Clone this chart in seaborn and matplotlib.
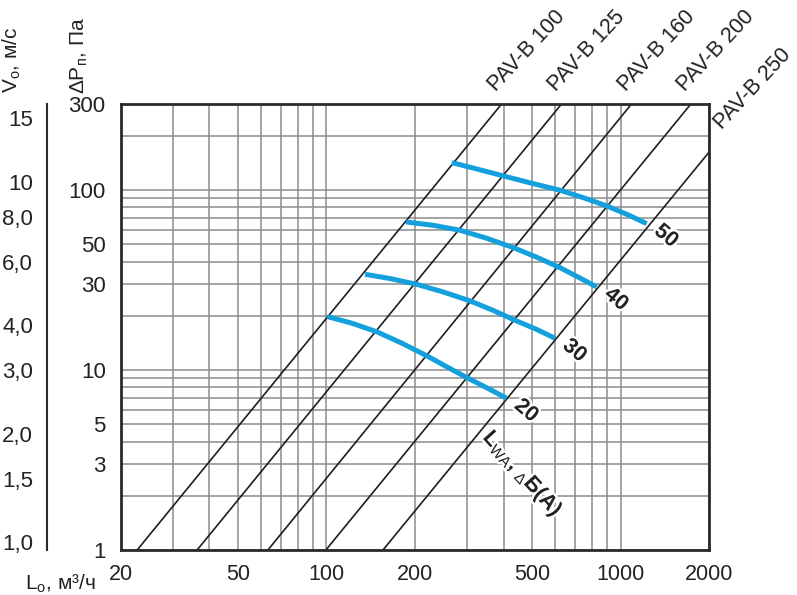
import numpy as np
import pandas as pd
import matplotlib
matplotlib.use("Agg")
import matplotlib.pyplot as plt
import matplotlib.ticker as mticker
import matplotlib.patheffects as pe
import seaborn as sns

# === Values ===
x_ticks = [20, 50, 100, 200, 500, 1000, 2000]
y_ticks = [1, 3, 5, 10, 30, 50, 100, 300]
v_ticks = [1.0, 1.5, 2.0, 3.0, 4.0, 6.0, 8.0, 10, 15]
v_tick_labels = ["1,0", "1,5", "2,0", "3,0", "4,0", "6,0", "8,0", "10", "15"]
v_minor_ticks = [5, 7, 9]

# pressure lines of each damper size (flow m3/h, dP Pa at both ends)
pav_models = ["PAV-B 100", "PAV-B 125", "PAV-B 160", "PAV-B 200", "PAV-B 250"]
pav_flow = [[22.7, 394], [36.3, 630], [63.2, 1090], [99.5, 1735], [155.6, 2000]]
pav_dp = [[1, 300], [1, 300], [1, 300], [1, 300], [1, 162]]

# sound power curves Lwa, dB(A)
noise_levels = [20, 30, 40, 50]
lw20_flow = [100.6, 121.8, 148.2, 180.2, 219.1, 259.7, 307.7, 355.2, 410.1]
lw20_dp = [19.8, 18.2, 16.3, 14.1, 12.0, 10.3, 8.88, 7.88, 6.96]
lw30_flow = [135.2, 164.4, 202.7, 249.7, 307.7, 369.4, 443.6, 518.6, 598.7]
lw30_dp = [34.0, 32.2, 29.9, 27.1, 24.2, 21.4, 18.7, 16.8, 15.0]
lw40_flow = [186.4, 230.9, 284.6, 350.6, 432.0, 518.6, 622.6, 728.2, 829.6]
lw40_dp = [66.4, 63.6, 59.7, 53.9, 47.8, 42.3, 37.0, 32.4, 28.9]
lw50_flow = [266.6, 324.2, 399.5, 498.7, 622.6, 757.3, 897.4, 1063, 1227]
lw50_dp = [141.8, 130.8, 119.6, 108.9, 99.6, 89.9, 81.5, 72.6, 65.0]

# === Build tables ===
df_pav = pd.DataFrame({
    "model": np.repeat(pav_models, 2),
    "flow": np.ravel(pav_flow),
    "dp": np.ravel(pav_dp),
})

noise_flow = [lw20_flow, lw30_flow, lw40_flow, lw50_flow]
noise_dp = [lw20_dp, lw30_dp, lw40_dp, lw50_dp]
df_noise = pd.concat([
    pd.DataFrame({"level": lvl, "flow": f, "dp": p})
    for lvl, f, p in zip(noise_levels, noise_flow, noise_dp)
])

# === Style ===
sns.set_theme(style="white")
plt.rcParams["font.family"] = ["Liberation Sans", "DejaVu Sans"]
plt.rcParams["mathtext.fontset"] = "custom"
plt.rcParams["mathtext.rm"] = "Liberation Sans"
plt.rcParams["mathtext.it"] = "Liberation Sans:italic"
plt.rcParams["mathtext.bf"] = "Liberation Sans:bold"
text_color = "#222222"
blue = "#13a0dc"
grid_color = "#8c8c8c"

fig = plt.figure(figsize=(7.97, 5.95), dpi=100)
ax = fig.add_axes([0.1518, 0.0756, 0.7378, 0.7496])

sns.lineplot(data=df_pav, x="flow", y="dp", units="model", estimator=None,
             sort=False, color="#1e1e1e", lw=1.2, legend=False, ax=ax)
sns.lineplot(data=df_noise, x="flow", y="dp", units="level", estimator=None,
             sort=False, color=blue, lw=3.6, legend=False, ax=ax,
             solid_capstyle="butt", solid_joinstyle="round")

ax.set_xscale("log")
ax.set_yscale("log")
ax.set_xlim(20, 2000)
ax.set_ylim(1, 300)
ax.set_xlabel("")
ax.set_ylabel("")

ax.set_xticks(x_ticks, labels=[str(t) for t in x_ticks])
ax.set_yticks(y_ticks, labels=[str(t) for t in y_ticks])
ax.xaxis.set_minor_locator(mticker.LogLocator(base=10, subs=np.arange(1, 10)))
ax.yaxis.set_minor_locator(mticker.LogLocator(base=10, subs=np.arange(1, 10)))
ax.xaxis.set_minor_formatter(mticker.NullFormatter())
ax.yaxis.set_minor_formatter(mticker.NullFormatter())
ax.tick_params(which="both", length=0)
ax.tick_params(axis="x", labelsize=15.5, pad=10, colors=text_color)
ax.tick_params(axis="y", labelsize=16, pad=11, colors=text_color)
ax.grid(which="both", color=grid_color, lw=1.1)
ax.set_axisbelow(True)
for s in ax.spines.values():
    s.set_visible(True)
    s.set_color("#2a2a2a")
    s.set_linewidth(2.0)

# === Velocity axis on the left ===
ax_v = fig.add_axes([0.059, 0.0756, 0.0005, 0.7496])
ax_v.set_yscale("log")
ax_v.set_ylim(0.95, 0.95 * np.sqrt(300))
ax_v.set_yticks(v_ticks, labels=v_tick_labels)
ax_v.yaxis.set_minor_locator(mticker.FixedLocator(v_minor_ticks))
ax_v.yaxis.set_minor_formatter(mticker.NullFormatter())
ax_v.set_xticks([])
ax_v.patch.set_visible(False)
for side in ["top", "right", "bottom"]:
    ax_v.spines[side].set_visible(False)
ax_v.spines["left"].set_color("#2a2a2a")
ax_v.spines["left"].set_linewidth(1.5)
ax_v.tick_params(axis="y", which="both", direction="out", length=6, width=1.2,
                 color="#2a2a2a", labelsize=16, pad=4, labelcolor=text_color)

# === Axis titles ===
fig.text(12 / 797, 1 - 60 / 595, r"V$_\mathrm{o}$, м/с", rotation=90,
         ha="center", va="center", fontsize=15, color=text_color)
fig.text(79 / 797, 1 - 56 / 595, r"ΔP$_\mathrm{п}$, Па", rotation=90,
         ha="center", va="center", fontsize=15, color=text_color)
fig.text(25 / 797, 1 - 590 / 595, r"L$_\mathrm{o}$, м³/ч",
         ha="left", va="baseline", fontsize=15, color=text_color)

# === Line labels ===
for i, name in enumerate(pav_models):
    end = (pav_flow[i][1], pav_dp[i][1])
    off = (-4, 9) if pav_dp[i][1] >= 300 else (9, 16)
    ax.annotate(name, xy=end, xytext=off, textcoords="offset points",
                rotation=47, rotation_mode="anchor", ha="left", va="baseline",
                fontsize=15.5, color=text_color, annotation_clip=False)

halo = [pe.withStroke(linewidth=3.5, foreground="white")]
for lvl, f, p in zip(noise_levels, noise_flow, noise_dp):
    ax.annotate(str(lvl), xy=(f[-1], p[-1]), xytext=(14, -9),
                textcoords="offset points", rotation=-40, ha="center",
                va="center", fontsize=15.5, fontweight="bold", color=text_color,
                path_effects=halo)

ax.text(0.682, 0.170, r"L$_\mathrm{WA}$, $_{\Delta}$Б(A)", transform=ax.transAxes,
        rotation=-48, rotation_mode="anchor", ha="center", va="center",
        fontsize=15.5, fontweight="bold", color=text_color, path_effects=halo)

fig.savefig("out.png", dpi=100)
